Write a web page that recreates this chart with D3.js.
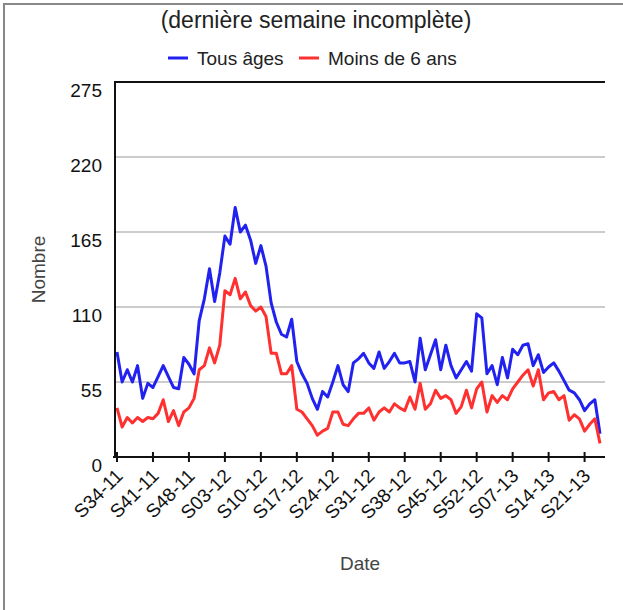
<!DOCTYPE html>
<html>
<head>
<meta charset="utf-8">
<script src="https://cdn.jsdelivr.net/npm/d3@7"></script>
<style>
  body { margin: 0; background: #fff; }
  svg { display: block; font-family: "Liberation Sans", Arial, sans-serif; }
</style>
</head>
<body>
<div id="chart"></div>
<script>
// weekly counts, S34-11 .. S24-13
var tousAges = [77, 55, 64, 55, 67, 43, 54, 51, 59, 67, 59, 51, 50, 73, 68, 61,
    100, 116, 138, 114, 135, 162, 156, 183, 165, 170, 159, 142, 155, 140, 113, 99,
    90, 88, 101, 70, 61, 54, 43, 35, 48, 44, 55, 67, 53, 48, 69, 72, 76, 69, 65,
    77, 65, 70, 76, 69, 69, 70, 55, 87, 64, 75, 86, 64, 82, 67, 58, 64, 70, 63,
    105, 102, 61, 67, 53, 73, 58, 79, 75, 82, 83, 67, 75, 62, 66, 69, 63, 56, 49,
    47, 42, 34, 39, 42, 17];
var moins6ans = [36, 22, 29, 25, 29, 26, 29, 28, 32, 42, 26, 34, 23, 33, 36, 43,
    64, 67, 80, 69, 82, 122, 119, 131, 116, 121, 111, 107, 110, 103, 76, 76,
    61, 61, 67, 35, 33, 28, 23, 16, 19, 21, 33, 33, 24, 23, 28, 32, 32, 36, 27,
    33, 36, 33, 39, 36, 34, 44, 35, 54, 35, 39, 49, 43, 45, 42, 32, 37, 49, 36,
    50, 55, 33, 45, 40, 45, 42, 50, 55, 60, 64, 52, 64, 42, 47, 48, 42, 45, 27,
    31, 28, 19, 24, 28, 10];
var tickLabels = ["S34-11", "S41-11", "S48-11", "S03-12", "S10-12", "S17-12", "S24-12",
    "S31-12", "S38-12", "S45-12", "S52-12", "S07-13", "S14-13", "S21-13"];
var yTicks = [0, 55, 110, 165, 220, 275];
var series = [
    {name: "Tous âges", values: tousAges, color: "#2121f0"},
    {name: "Moins de 6 ans", values: moins6ans, color: "#ff3030"}
];

var width = 623, height = 610;
var plot = {left: 115, right: 605, top: 82, bottom: 457};

var svg = d3.select("#chart").append("svg")
    .attr("width", width)
    .attr("height", height);

// outer frame (left + top)
svg.append("path")
    .attr("d", "M4,610V4H623")
    .attr("fill", "none")
    .attr("stroke", "#888")
    .attr("stroke-width", 2);

var x = d3.scaleLinear()
    .domain([0, tousAges.length - 1])
    .range([117, 600]);

var y = d3.scaleLinear()
    .domain([0, 275])
    .range([plot.bottom, plot.top]);

// title
svg.append("text")
    .attr("x", 316)
    .attr("y", 28)
    .attr("text-anchor", "middle")
    .attr("font-size", 23)
    .attr("fill", "#222")
    .text("(dernière semaine incomplète)");

// legend
var legend = svg.append("g").attr("class", "legend");
var legendX = [168, 299];
series.forEach(function(s, i) {
    legend.append("line")
        .attr("x1", legendX[i]).attr("x2", legendX[i] + 20)
        .attr("y1", 58).attr("y2", 58)
        .attr("stroke", s.color)
        .attr("stroke-width", 3);
    legend.append("text")
        .attr("x", legendX[i] + 29)
        .attr("y", 65)
        .attr("font-size", 19)
        .attr("fill", "#222")
        .text(s.name);
});

// gridlines
svg.append("g")
    .selectAll("line")
    .data(yTicks.filter(function(d) { return d > 0 && d < 275; }))
    .enter().append("line")
    .attr("x1", plot.left).attr("x2", plot.right)
    .attr("y1", function(d) { return y(d); })
    .attr("y2", function(d) { return y(d); })
    .attr("stroke", "#ccc")
    .attr("stroke-width", 2);

// y axis labels
var yAxis = d3.axisLeft(y)
    .tickValues(yTicks)
    .tickSize(0)
    .tickPadding(13);
var gy = svg.append("g")
    .attr("transform", "translate(" + plot.left + ",0)")
    .call(yAxis);
gy.select(".domain").remove();
gy.selectAll("text")
    .attr("font-size", 19)
    .attr("font-family", "Liberation Sans, Arial, sans-serif")
    .attr("fill", "#111")
    .attr("dy", "0.75em");

// lines
var line = d3.line()
    .x(function(d, i) { return x(i); })
    .y(function(d) { return y(d); });

svg.append("g")
    .selectAll("path")
    .data(series)
    .enter().append("path")
    .attr("d", function(s) { return line(s.values); })
    .attr("fill", "none")
    .attr("stroke", function(s) { return s.color; })
    .attr("stroke-width", 3)
    .attr("stroke-linejoin", "round");

// frame: left, top, bottom
svg.append("path")
    .attr("d", "M" + plot.left + "," + (plot.bottom + 1) + "V" + plot.top + "H" + plot.right)
    .attr("fill", "none")
    .attr("stroke", "#111")
    .attr("stroke-width", 2);
svg.append("line")
    .attr("x1", plot.left - 2).attr("x2", plot.right)
    .attr("y1", plot.bottom).attr("y2", plot.bottom)
    .attr("stroke", "#111")
    .attr("stroke-width", 2);

// x ticks and labels
var xTicks = svg.append("g")
    .selectAll("g")
    .data(tickLabels)
    .enter().append("g")
    .attr("transform", function(d, i) { return "translate(" + x(i * 7) + ",0)"; });
xTicks.append("line")
    .attr("y1", plot.bottom - 5).attr("y2", plot.bottom + 5)
    .attr("stroke", "#111")
    .attr("stroke-width", 2);
xTicks.append("text")
    .attr("text-anchor", "end")
    .attr("font-size", 19)
    .attr("fill", "#111")
    .attr("transform", "translate(7," + (plot.bottom + 20) + ") rotate(-45)")
    .text(function(d) { return d; });

// axis titles
svg.append("text")
    .attr("x", (plot.left + plot.right) / 2)
    .attr("y", 570)
    .attr("text-anchor", "middle")
    .attr("font-size", 19)
    .attr("fill", "#444")
    .text("Date");
svg.append("text")
    .attr("transform", "translate(45," + ((plot.top + plot.bottom) / 2) + ") rotate(-90)")
    .attr("text-anchor", "middle")
    .attr("font-size", 19)
    .attr("fill", "#444")
    .text("Nombre");
</script>
</body>
</html>
